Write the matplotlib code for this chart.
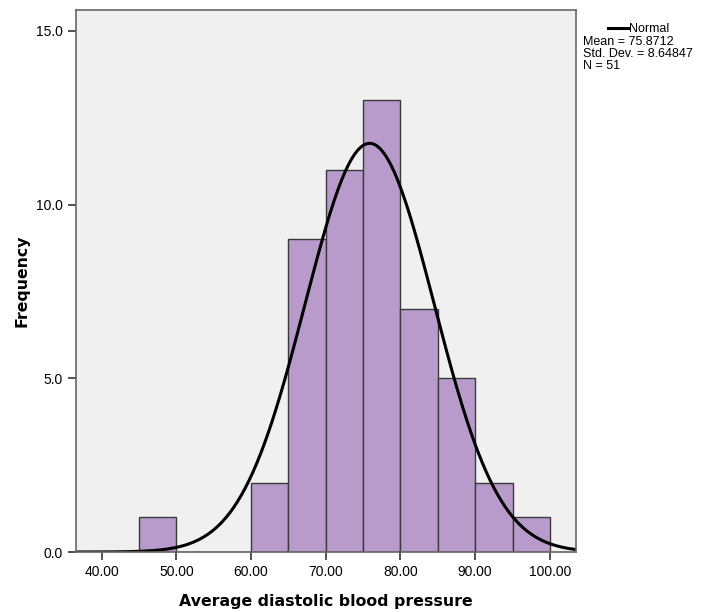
import numpy as np
import matplotlib.pyplot as plt
from matplotlib.lines import Line2D

plt.rcParams['font.family'] = ['Liberation Sans', 'DejaVu Sans']

bin_edges = [45, 50, 55, 60, 65, 70, 75, 80, 85, 90, 95, 100]
counts = [1, 0, 0, 2, 9, 11, 13, 7, 5, 2, 1]
mean = 75.8712
std = 8.64847
n = 51
bin_width = 5

fig = plt.figure(figsize=(7.02, 6.12), dpi=100)
ax = fig.add_axes([0.1083, 0.098, 0.7122, 0.8856])
ax.set_facecolor('#f0f0f0')

lefts = np.array(bin_edges[:-1])
ax.bar(lefts, counts, width=bin_width, align='edge', color='#b89bca',
       edgecolor='#3a3a3a', linewidth=1.0)

xlo, xhi = 36.56, 103.5
x = np.linspace(xlo, xhi, 400)
y = n * bin_width * np.exp(-0.5 * ((x - mean) / std) ** 2) / (std * np.sqrt(2 * np.pi))
ax.plot(x, y, color='black', linewidth=2.2)

ax.set_xlim(xlo, xhi)
ax.set_ylim(0, 15.6)
ax.set_xticks([40, 50, 60, 70, 80, 90, 100])
ax.set_xticklabels([f"{v:.2f}" for v in [40, 50, 60, 70, 80, 90, 100]])
ax.set_yticks([0, 5, 10, 15])
ax.set_yticklabels([f"{v:.1f}" for v in [0, 5, 10, 15]])
ax.tick_params(labelsize=10, length=6, width=1.2, color='#333333')
for s in ax.spines.values():
    s.set_color('#666666')
    s.set_linewidth(1.2)

ax.set_xlabel("Average diastolic blood pressure", fontsize=11.3, fontweight='bold',
              family='DejaVu Sans', labelpad=11)
ax.set_ylabel("Frequency", fontsize=11.3, fontweight='bold',
              family='DejaVu Sans', labelpad=5)

# legend / stats box outside the axes
fig.add_artist(Line2D([608 / 702, 628 / 702], [1 - 28 / 612, 1 - 28 / 612],
                      color='black', linewidth=2.2))
fig.text(629 / 702, 1 - 29 / 612, "Normal", fontsize=9, va='center', ha='left')
stats = [f"Mean = {mean}", f"Std. Dev. = {std}", f"N = {n}"]
for i, s in enumerate(stats):
    fig.text(583 / 702, 1 - (42 + i * 12) / 612, s, fontsize=9, va='center', ha='left')

plt.savefig("out.png", dpi=100)
